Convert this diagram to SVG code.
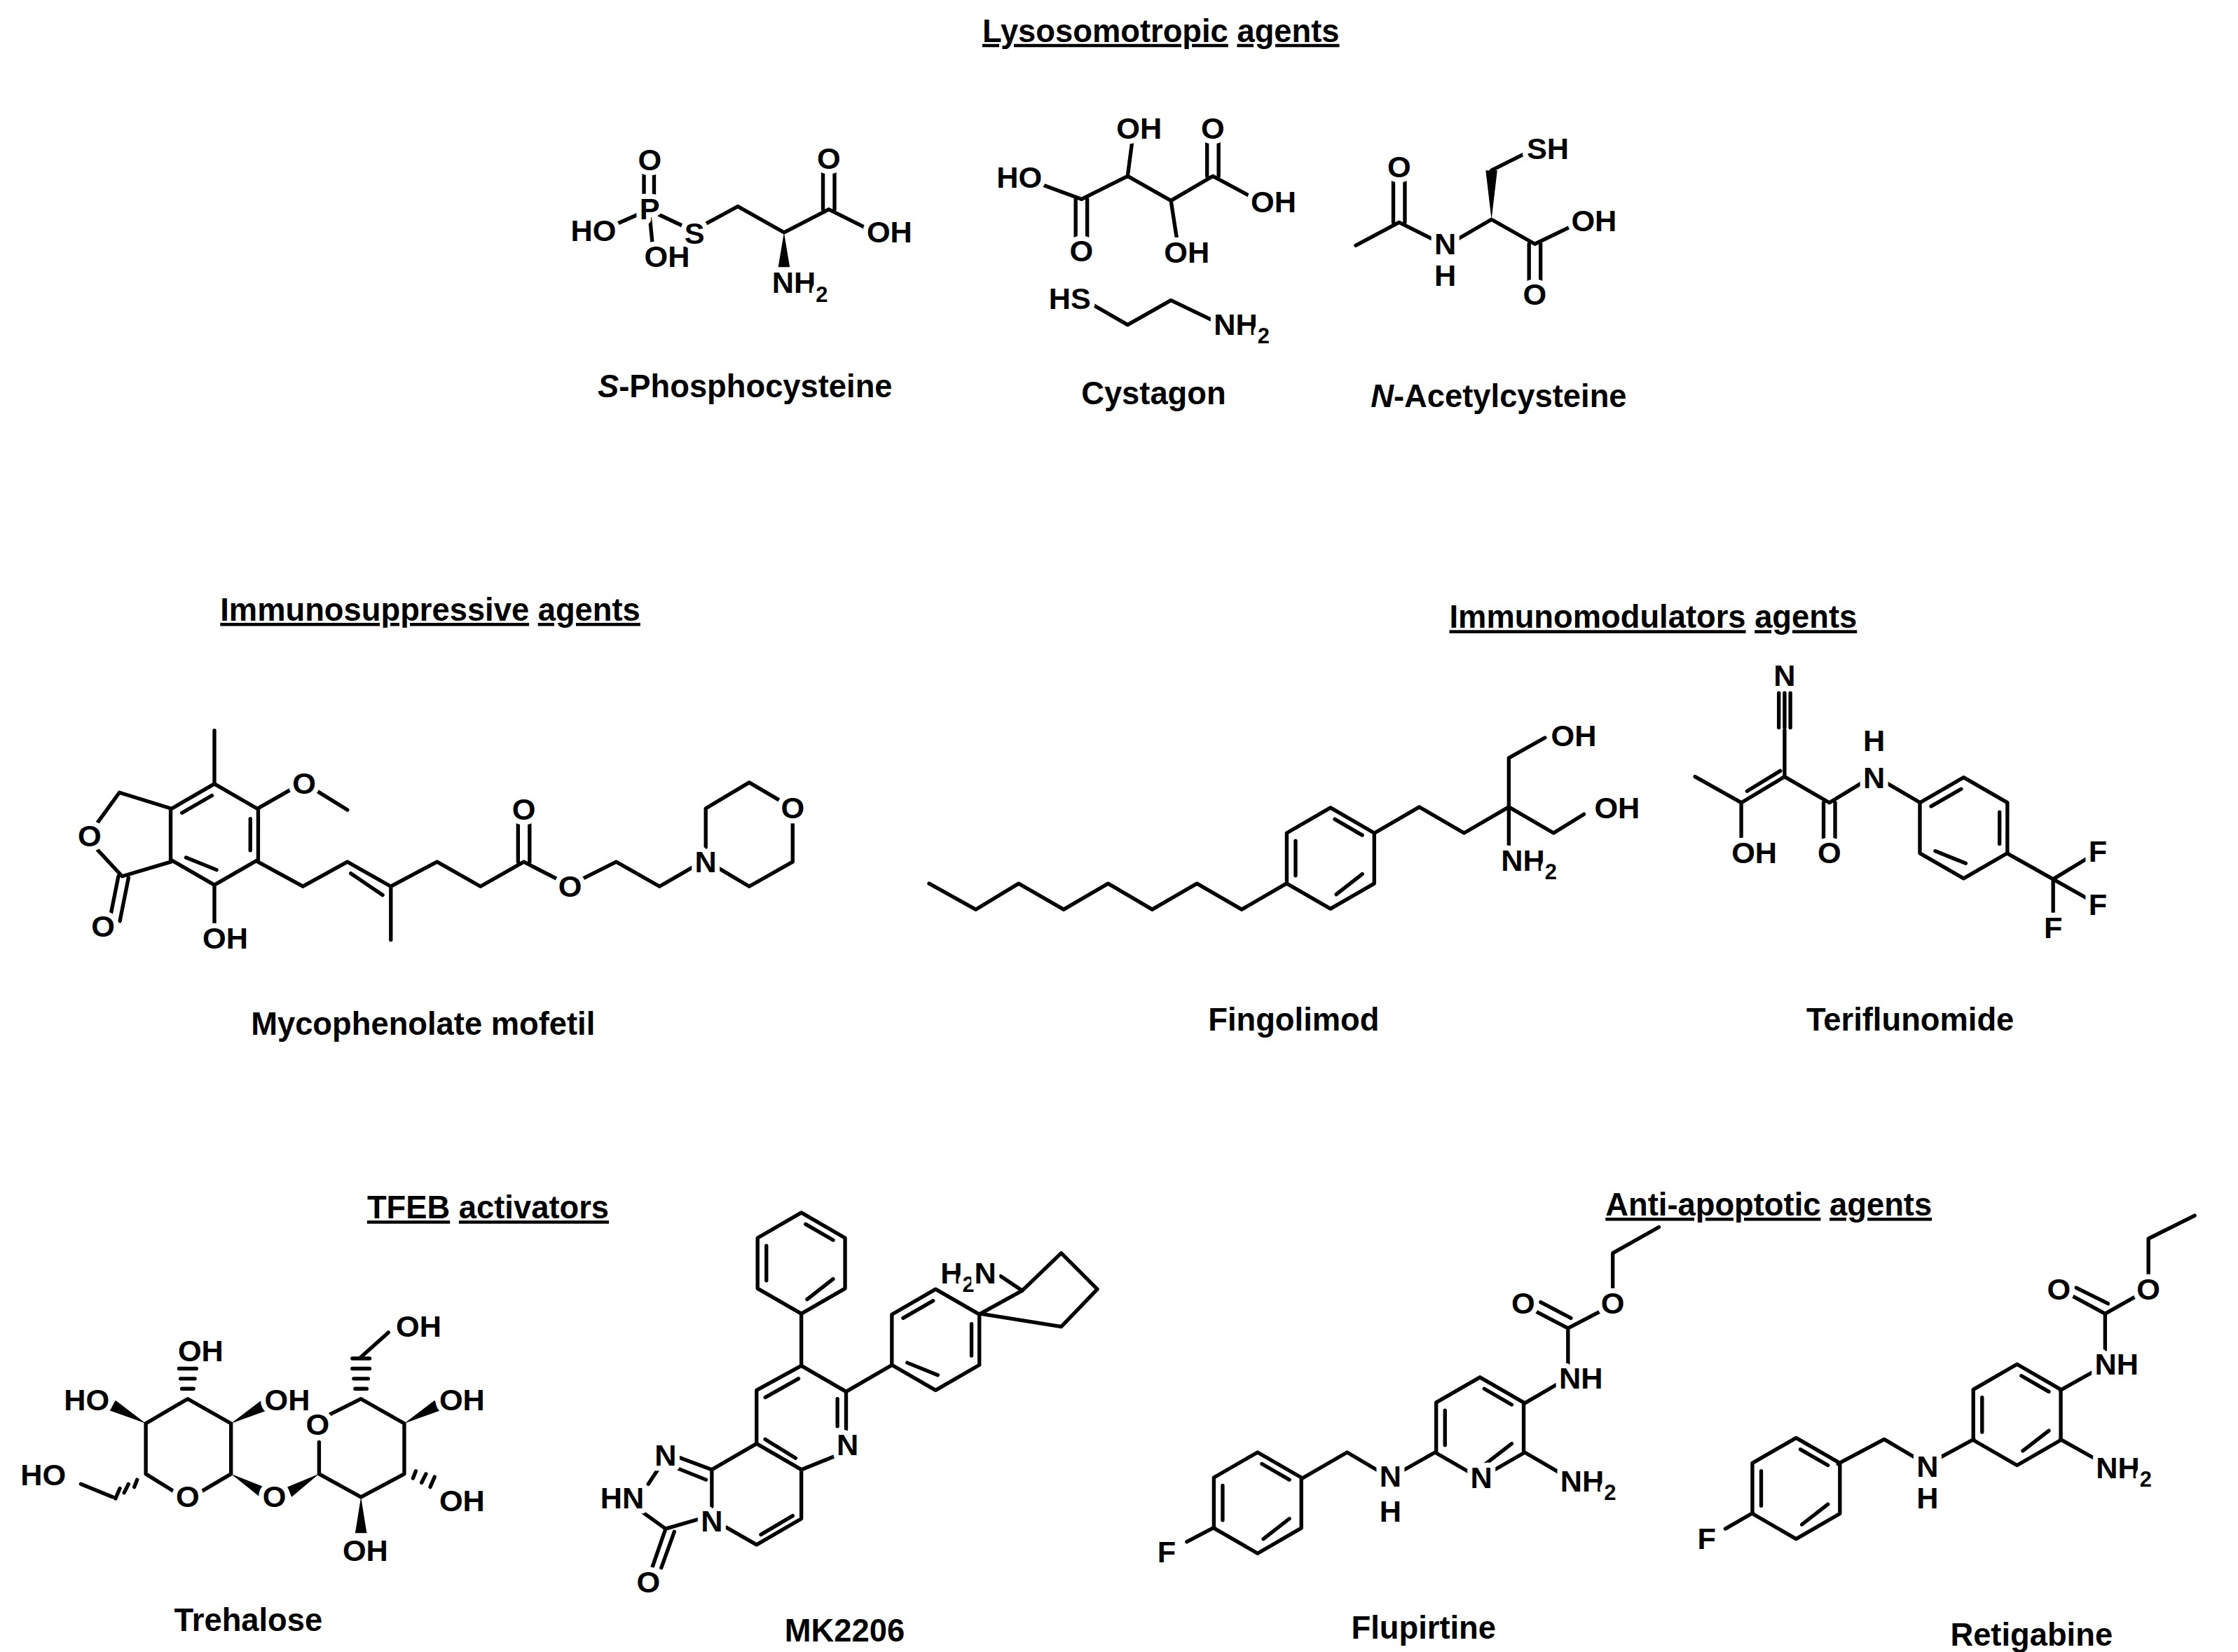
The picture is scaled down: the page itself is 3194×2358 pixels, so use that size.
<svg xmlns="http://www.w3.org/2000/svg" width="3194" height="2358" viewBox="0 0 3194 2358">
<style>
.b{fill:none;stroke:#000;stroke-width:2.6;stroke-linejoin:round;stroke-linecap:round}
.a{font-family:"Liberation Sans",Arial,sans-serif;font-weight:bold;font-size:21px;fill:#000;stroke:#fff;stroke-width:7px;paint-order:stroke;stroke-linejoin:round;text-anchor:middle}
.n{font-family:"Liberation Sans",Arial,sans-serif;font-weight:bold;font-size:22px;fill:#000;text-anchor:middle}
.s{font-size:15px}
</style>
<defs>
<path id="hex" class="b" d="M0,-35 L30.3,-17.5 L30.3,17.5 L0,35 L-30.3,17.5 L-30.3,-17.5 Z"/>
<g id="benz"><use href="#hex"/><path class="b" d="M3,-27 L22,-16 M22,11 L4,25 M-24.2,12 L-24.2,-12" stroke-width="2.4"/></g>
</defs>
<rect width="3194" height="2358" fill="#fff"/>
<g transform="scale(2.0606)">
<g id="titles">
<text class="n" x="804" y="29"><tspan text-decoration="underline">Lysosomotropic</tspan> <tspan text-decoration="underline">agents</tspan></text>
<text class="n" x="298" y="430"><tspan text-decoration="underline">Immunosuppressive</tspan> <tspan text-decoration="underline">agents</tspan></text>
<text class="n" x="1145" y="435"><tspan text-decoration="underline">Immunomodulators</tspan> <tspan text-decoration="underline">agents</tspan></text>
<text class="n" x="338" y="844"><tspan text-decoration="underline">TFEB</tspan> <tspan text-decoration="underline">activators</tspan></text>
<text class="n" x="1225" y="842"><tspan text-decoration="underline">Anti-apoptotic</tspan> <tspan text-decoration="underline">agents</tspan></text>
</g>
<g id="names">
<text class="n" x="516" y="275"><tspan font-style="italic">S</tspan>-Phosphocysteine</text>
<text class="n" x="799" y="280">Cystagon</text>
<text class="n" x="1038" y="282"><tspan font-style="italic">N</tspan>-Acetylcysteine</text>
<text class="n" x="293" y="717">Mycophenolate mofetil</text>
<text class="n" x="896" y="714">Fingolimod</text>
<text class="n" x="1323" y="714">Teriflunomide</text>
<text class="n" x="172" y="1130">Trehalose</text>
<text class="n" x="585" y="1137">MK2206</text>
<text class="n" x="986" y="1135">Flupirtine</text>
<text class="n" x="1407" y="1140">Retigabine</text>
</g>
<g id="s-phosphocysteine">
<path class="b" d="M425,156 L450,145 M446,119 L446,140 M453,119 L453,140 M450,150 L452,170 M455,148 L474,157 M487,156 L511,143 L543,161 L574,145 L600,158 M570,145 L570,118 M578,145 L578,118"/>
<path d="M543,161 L539,185 L547,185 Z" fill="#000"/>
<text class="a" x="450" y="118">O</text><text class="a" x="450" y="152">P</text>
<text class="a" x="411" y="167">HO</text><text class="a" x="462" y="185">OH</text>
<text class="a" x="481" y="169">S</text><text class="a" x="574" y="117">O</text>
<text class="a" x="616" y="168">OH</text><text class="a" x="554" y="203">NH<tspan class="s" dy="6">2</tspan></text>
</g>
<g id="cystagon">
<path class="b" d="M722,128 L749,138 L781,122 L811,139 L840,122 L866,136 M745,138 L745,164 M753,138 L753,164 M781,122 L784,99 M811,139 L815,165 M836,122 L836,99 M844,122 L844,99 M755,210 L781,225 L811,208 L840,222"/>
<text class="a" x="706" y="130">HO</text><text class="a" x="749" y="181">O</text>
<text class="a" x="789" y="96">OH</text><text class="a" x="822" y="182">OH</text>
<text class="a" x="840" y="96">O</text><text class="a" x="882" y="147">OH</text>
<text class="a" x="741" y="214">HS</text><text class="a" x="860" y="232">NH<tspan class="s" dy="6">2</tspan></text>
</g>
<g id="n-acetylcysteine">
<path class="b" d="M939,170 L969,154 L993,166 M965,154 L965,124 M973,154 L973,124 M1009,166 L1033,152 L1063,169 L1090,156 M1059,169 L1059,196 M1067,169 L1067,196 M1033,118 L1057,106"/>
<path d="M1033,152 L1029,118 L1037,118 Z" fill="#000"/>
<text class="a" x="969" y="123">O</text><text class="a" x="1001" y="176">N</text><text class="a" x="1001" y="198">H</text>
<text class="a" x="1072" y="110">SH</text><text class="a" x="1104" y="160">OH</text><text class="a" x="1063" y="211">O</text>
</g>
<g id="mycophenolate">
<use href="#benz" transform="translate(148.5,578) rotate(60)"/>
<path class="b" d="M148.5,542 L148.5,506 M178.6,560 L203,546 M218,547 L240.6,561 M118.4,560 L82.7,549 L66,572 M66,587 L84.6,607 L118.4,597 M82,607 L76,637 M89,608 L83,638 M148.5,614 L148.5,640 M178.6,597 L209.8,614 L240.6,597 L270.7,614 L302.7,597 L332.8,614 L362.8,597 L388,610 M243,605 L265,620 M270.7,614 L270.7,651 M358.8,597 L358.8,570 M366.8,597 L366.8,570 M401,610 L426.8,597 L456.8,614 L481,600 M488.8,588 L488.8,560 L518.9,542 L541,555 M549,570 L549,597 L518.9,614 L497,601"/>
<text class="a" x="210.6" y="550">O</text><text class="a" x="62" y="586">O</text>
<text class="a" x="71.4" y="649">O</text><text class="a" x="156" y="657">OH</text>
<text class="a" x="362.8" y="568">O</text><text class="a" x="394.8" y="621">O</text>
<text class="a" x="488.8" y="604">N</text><text class="a" x="549" y="567">O</text>
</g>
<g id="fingolimod">
<use href="#benz" x="921.5" y="594.5"/>
<path class="b" d="M643.5,612 L675.8,630 L705.5,612 L736.7,630 L767.5,612 L798,630 L829,612 L860,630 L891,612 M952,577 L983,559 L1014,577 L1045,559 L1045,525 L1070,511 M1045,559 L1076,577 L1097,564 M1045,559 L1045,585"/>
<text class="a" x="1090" y="517">OH</text><text class="a" x="1120" y="567">OH</text>
<text class="a" x="1059" y="603">NH<tspan class="s" dy="6">2</tspan></text>
</g>
<g id="teriflunomide">
<use href="#benz" transform="translate(1360,573.5) rotate(60)"/>
<path class="b" d="M1174,538 L1206,556 L1236,538 L1267,556 L1290,542 M1210,548 L1233,534 M1206,556 L1206,580 M1236,538 L1236,506 M1232,504 L1232,480 M1236,504 L1236,480 M1240,504 L1240,480 M1263,556 L1263,580 M1271,556 L1271,580 M1306,542 L1330,556 M1390,591 L1422,609 L1445,595 M1422,609 L1445,622 M1422,609 L1422,632"/>
<text class="a" x="1236" y="475">N</text><text class="a" x="1298" y="520">H</text><text class="a" x="1298" y="546">N</text>
<text class="a" x="1215" y="598">OH</text><text class="a" x="1267" y="598">O</text>
<text class="a" x="1453" y="597">F</text><text class="a" x="1453" y="634">F</text><text class="a" x="1422" y="650">F</text>
</g>
<g id="trehalose">
<path class="b" d="M101,986 L130,969 L160,986 L160,1021 L138,1034 M122,1034 L101,1021 Z M101,986 L101,1021 M221,1021 L221,999 M228,980 L250,969 L280,986 L280,1021 L250,1037 L221,1021 M250,940 L269,923 M78,1037 L56,1028"/>
<path d="M101,986 L80,970 L76,977 Z M160,986 L181,970 L185,977 Z M280,986 L301,970 L305,977 Z M160,1021 L183,1030 L180,1037 Z M221,1021 L199,1030 L202,1037 Z M250,1037 L246,1062 L254,1062 Z" fill="#000"/>
<path class="b" stroke-width="1.6" d="M126,962 L134,962 M125,955 L135,955 M124,948 L136,948 M246,962 L254,962 M245,955 L255,955 M244,948 L256,948 M244,941 L256,941 M95,1025 L93,1030 M89,1028 L86,1034 M83,1031 L80,1038 M286,1024 L288,1019 M292,1027 L295,1021 M298,1030 L301,1023"/>
<text class="a" x="130" y="1044">O</text><text class="a" x="30" y="1029">HO</text>
<text class="a" x="60" y="977">HO</text><text class="a" x="139" y="943">OH</text>
<text class="a" x="199" y="977">OH</text><text class="a" x="190" y="1044">O</text>
<text class="a" x="220" y="994">O</text><text class="a" x="290" y="926">OH</text>
<text class="a" x="320" y="977">OH</text><text class="a" x="320" y="1047">OH</text>
<text class="a" x="253" y="1081">OH</text>
</g>
<g id="mk2206">
<use href="#benz" x="555" y="875"/>
<use href="#benz" transform="translate(648,928) rotate(60)"/>
<path class="b" d="M555,910 L555,946 L586,964 L586,990 M580,1008 L555,1018 L524,1000 L524,963 L555,946 M530,968 L553,955 M580,969 L580,988 M530,997 L551,1010 M555,1018 L555,1052 L524,1070 L503,1058 M549,1050 L527,1063 M493,1046 L493,1018 L524,1000 M493,1018 L469,1009 M489,1025 L469,1017 M457,1016 L449,1028 M443,1046 L461,1059 L485,1052 M461,1059 L452,1085 M467,1061 L458,1086 M586,964 L617,946 M679,910 L708,894 L735,868 L760,893 L735,919 Z M708,894 L693,884"/>
<text class="a" x="587" y="1008">N</text><text class="a" x="461" y="1015">N</text>
<text class="a" x="431" y="1045">HN</text><text class="a" x="493" y="1061">N</text>
<text class="a" x="449" y="1103">O</text><text class="a" x="690" y="889" style="text-anchor:end">H<tspan class="s" dy="6">2</tspan><tspan dy="-6">N</tspan></text>
</g>
<g id="flupirtine">
<use href="#benz" x="871" y="1041"/>
<use href="#benz" x="1025" y="989"/>
<path class="b" d="M841,1058 L822,1068 M902,1024 L933,1006 L955,1019 M971,1019 L994,1006 M1056,972 L1080,958 M1056,1006 L1080,1020 M1086,946 L1086,920 L1063,908 M1088,913 L1067,902 M1086,920 L1109,908 M1117,893 L1117,868 L1149,850"/>
<text class="a" x="808" y="1082">F</text><text class="a" x="963" y="1030">N</text><text class="a" x="963" y="1054">H</text>
<text class="a" x="1026" y="1031">N</text><text class="a" x="1095" y="962">NH</text>
<text class="a" x="1100" y="1033">NH<tspan class="s" dy="6">2</tspan></text>
<text class="a" x="1055" y="910">O</text><text class="a" x="1117" y="910">O</text>
</g>
<g id="retigabine">
<use href="#benz" x="1244" y="1031"/>
<use href="#benz" x="1397" y="980"/>
<path class="b" d="M1214,1048 L1195,1059 M1273,1014 L1305,997 L1327,1010 M1343,1010 L1367,997 M1427,963 L1452,949 M1427,997 L1452,1011 M1458,935 L1458,910 L1434,897 M1460,903 L1438,892 M1458,910 L1481,897 M1488,883 L1488,858 L1520,842"/>
<text class="a" x="1182" y="1073">F</text><text class="a" x="1335" y="1023">N</text><text class="a" x="1335" y="1045">H</text>
<text class="a" x="1466" y="952">NH</text>
<text class="a" x="1471" y="1024">NH<tspan class="s" dy="6">2</tspan></text>
<text class="a" x="1426" y="900">O</text><text class="a" x="1488" y="900">O</text>
</g>
</g>
</svg>
